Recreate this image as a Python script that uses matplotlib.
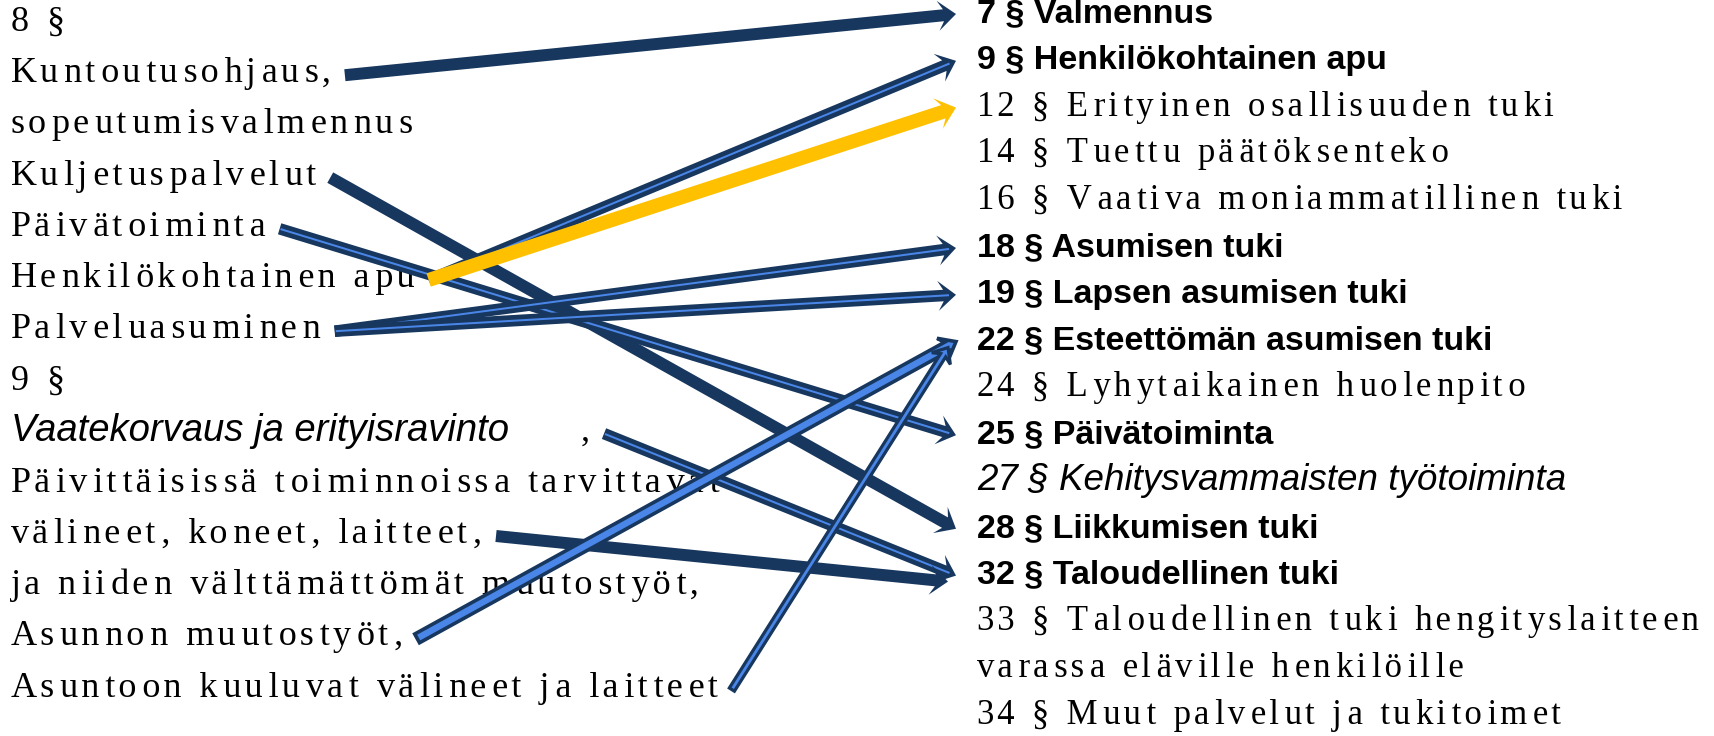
"""
Kuvio: vanhan vammaispalvelulain palvelut (vasen) ja uuden lain pykälät (oikea),
nuolet osoittavat mihin pykälään kukin palvelu siirtyy.
"""
import math
from itertools import cycle

import matplotlib
matplotlib.use("Agg")
import matplotlib.pyplot as plt

# ------------------------------------------------------------------ #
#  Data                                                               #
# ------------------------------------------------------------------ #

left_labels = [
    "8 §",
    "Kuntoutusohjaus,",
    "sopeutumisvalmennus",
    "Kuljetuspalvelut",
    "Päivätoiminta",
    "Henkilökohtainen apu",
    "Palveluasuminen",
    "9 §",
    "Vaatekorvaus ja erityisravinto",
    "Päivittäisissä toiminnoissa tarvittavat",
    "välineet, koneet, laitteet,",
    "ja niiden välttämättömät muutostyöt,",
    "Asunnon muutostyöt,",
    "Asuntoon kuuluvat välineet ja laitteet",
]
left_styles = ["serif"] * 8 + ["italic"] + ["serif"] * 5
left_tail = {8: ","}          # erillinen pilkku rivin perässä

right_labels = [
    "7 § Valmennus",
    "9 § Henkilökohtainen apu",
    "12 § Erityinen osallisuuden tuki",
    "14 § Tuettu päätöksenteko",
    "16 § Vaativa moniammatillinen tuki",
    "18 § Asumisen tuki",
    "19 § Lapsen asumisen tuki",
    "22 § Esteettömän asumisen tuki",
    "24 § Lyhytaikainen huolenpito",
    "25 § Päivätoiminta",
    "27 § Kehitysvammaisten työtoiminta",
    "28 § Liikkumisen tuki",
    "32 § Taloudellinen tuki",
    "33 § Taloudellinen tuki hengityslaitteen",
    "varassa eläville henkilöille",
    "34 § Muut palvelut ja tukitoimet",
]
right_styles = ["bold", "bold", "serif", "serif", "serif", "bold", "bold", "bold",
                "serif", "bold", "italic", "bold", "bold", "serif", "serif", "serif"]

# yhteydet: vasemman rivin indeksi -> oikean rivin indeksi
arrow_src = [1, 3, 4, 5, 5, 6, 6, 8, 10, 12, 13]
arrow_dst = [0, 11, 9, 1, 2, 5, 6, 12, 12, 7, 7]
arrow_kind = ["solid", "solid", "double", "double", "yellow", "double",
              "double", "double", "solid", "bright", "bright_thin"]

# ------------------------------------------------------------------ #
#  Tyylit ja asettelu                                                 #
# ------------------------------------------------------------------ #

W, H = 1715, 736
NAVY = "#17375E"
LIGHT = "#4A86E8"
YELLOW = "#FFC000"

SERIF = ["Liberation Serif", "DejaVu Serif"]
SANS = ["Liberation Sans", "DejaVu Sans"]
TRACKING = ("\u200a", "\u2006")   # väljä merkkiväli kuten alkuperäisessä

LEFT_FONTS = {
    "serif":  dict(family=SERIF, size=26, spacing=TRACKING),
    "italic": dict(family=SANS, size=27.5, style="italic", spacing=None),
}
RIGHT_FONTS = {
    "serif":  dict(family=SERIF, size=25, spacing=TRACKING),
    "bold":   dict(family=SANS, size=24.5, weight="bold", spacing=None),
    "italic": dict(family=SANS, size=26.5, style="italic", spacing=None),
}

LEFT_X, LEFT_BASE0, LEFT_STEP = 11, 31, 51.2
RIGHT_X, RIGHT_BASE0, RIGHT_STEP = 977, 22, 46.8
TAIL_GAP = 72
START_GAP = 14
END_X = 956

ARROW_STYLES = {
    "solid":       dict(width=12, head_w=30, head_l=18, face=NAVY, edge=NAVY, lw=0),
    "double":      dict(width=11.5, head_w=30, head_l=18, face=NAVY, edge=NAVY, lw=0,
                        inner=LIGHT, inner_lw=2.0),
    "yellow":      dict(width=14, head_w=32, head_l=19, face=YELLOW, edge=YELLOW, lw=0),
    "bright":      dict(width=10, head_w=24, head_l=15, face=LIGHT, edge=NAVY, lw=3.6),
    "bright_thin": dict(width=6, head_w=22, head_l=13, face=LIGHT, edge=NAVY, lw=3.2),
}


def spaced(text, gaps):
    if not gaps:
        return text
    g = cycle(gaps)
    out = text[0]
    for ch in text[1:]:
        out += next(g) + ch
    return out


def put_text(ax, x, y, text, spec):
    spec = dict(spec)
    gaps = spec.pop("spacing")
    return ax.text(x, y, spaced(text, gaps), va="baseline", ha="left",
                   color="black", zorder=1, **spec)


def right_edge(ax, artist, renderer):
    bb = artist.get_window_extent(renderer=renderer)
    return ax.transData.inverted().transform((bb.x1, bb.y0))[0]


def draw_arrow(ax, x0, y0, x1, y1, kind, z):
    st = ARROW_STYLES[kind]
    dx, dy = x1 - x0, y1 - y0
    ax.arrow(x0, y0, dx, dy, width=st["width"], head_width=st["head_w"],
             head_length=st["head_l"], length_includes_head=True, overhang=0.3,
             facecolor=st["face"], edgecolor=st["edge"],
             linewidth=st["lw"] * 72 / 100, zorder=z)
    if "inner" in st:
        length = math.hypot(dx, dy)
        ux, uy = dx / length, dy / length
        ex, ey = x1 - ux * 7, y1 - uy * 7
        ax.plot([x0 + ux, ex], [y0 + uy, ey], color=st["inner"],
                lw=st["inner_lw"] * 72 / 100, solid_capstyle="butt", zorder=z + 0.5)


fig = plt.figure(figsize=(W / 100, H / 100), dpi=100)
fig.patch.set_facecolor("white")
ax = fig.add_axes([0, 0, 1, 1])
ax.set_xlim(0, W)
ax.set_ylim(H, 0)
ax.axis("off")

renderer = fig.canvas.get_renderer()

left_base = [LEFT_BASE0 + LEFT_STEP * i for i in range(len(left_labels))]
right_base = [RIGHT_BASE0 + RIGHT_STEP * i for i in range(len(right_labels))]

left_end = []
for i, (label, style) in enumerate(zip(left_labels, left_styles)):
    t = put_text(ax, LEFT_X, left_base[i], label, LEFT_FONTS[style])
    end = right_edge(ax, t, renderer)
    if i in left_tail:
        t2 = put_text(ax, end + TAIL_GAP, left_base[i], left_tail[i], LEFT_FONTS["serif"])
        end = right_edge(ax, t2, renderer)
    left_end.append(end)

for i, (label, style) in enumerate(zip(right_labels, right_styles)):
    put_text(ax, RIGHT_X, right_base[i], label, RIGHT_FONTS[style])

# saman kohteen nuolet hajautetaan hieman pystysuunnassa
seen = {}
for k, (s, d, kind) in enumerate(zip(arrow_src, arrow_dst, arrow_kind)):
    n = seen.get(d, 0)
    seen[d] = n + 1
    x0 = left_end[s] + START_GAP
    y0 = left_base[s] - 7
    x1 = END_X - 8 * n
    y1 = right_base[d] - 8 + 6 * n
    draw_arrow(ax, x0, y0, x1, y1, kind, z=2 + k)

fig.savefig("out.png", dpi=100, facecolor="white")
